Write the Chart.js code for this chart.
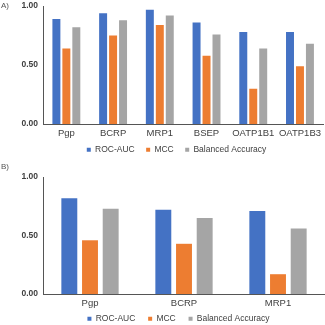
<!DOCTYPE html>
<html>
<head>
<meta charset="utf-8">
<script src="https://cdn.jsdelivr.net/npm/chart.js@4"></script>
<style>
  html, body { margin: 0; padding: 0; background: #fff; }
  body { width: 325px; height: 325px; position: relative; overflow: hidden; font-family: "Liberation Sans", Arial, sans-serif; }
  .panel { position: absolute; left: 0; width: 325px; }
  .tag { position: absolute; left: 1px; font-size: 8px; color: #555; }
</style>
</head>
<body>
<div class="panel" style="top:-4px;height:168px"><canvas id="chartA"></canvas></div>
<div class="panel" style="top:167px;height:166px"><canvas id="chartB"></canvas></div>
<div class="tag" style="top:1px">A)</div>
<div class="tag" style="top:162px">B)</div>
<script>
const seriesNames = ['ROC-AUC', 'MCC', 'Balanced Accuracy'];
const seriesColors = ['#4472C4', '#ED7D31', '#A5A5A5'];

// Panel A
const labelsA = ['Pgp', 'BCRP', 'MRP1', 'BSEP', 'OATP1B1', 'OATP1B3'];
const rocA = [0.89, 0.94, 0.97, 0.86, 0.78, 0.78];
const mccA = [0.64, 0.75, 0.84, 0.58, 0.30, 0.49];
const baA = [0.82, 0.88, 0.92, 0.76, 0.64, 0.68];

// Panel B
const labelsB = ['Pgp', 'BCRP', 'MRP1'];
const rocB = [0.82, 0.72, 0.71];
const mccB = [0.46, 0.43, 0.17];
const baB = [0.73, 0.65, 0.56];

const yTicks = [0, 0.5, 1];
const FONT = '"Liberation Sans", Arial, sans-serif';

// legend sits a bit right of centre in the original
const shiftLegend = {
  id: 'shiftLegend',
  afterLayout(chart, args, opts) {
    const lg = chart.legend;
    if (lg) { lg.left += opts.dx; lg.right += opts.dx; }
  },
};

function makeChart(id, labels, values, barPct, catPct, legendPad, gap, dx) {
  return new Chart(document.getElementById(id), {
    type: 'bar',
    data: {
      labels,
      datasets: values.map((v, i) => ({
        label: seriesNames[i],
        data: v,
        backgroundColor: seriesColors[i],
        barPercentage: barPct,
        categoryPercentage: catPct,
      })),
    },
    plugins: [shiftLegend],
    options: {
      responsive: true,
      maintainAspectRatio: false,
      animation: false,
      layout: { padding: 0 },
      plugins: {
        tooltip: { enabled: false },
        shiftLegend: { dx },
        legend: {
          position: 'bottom',
          labels: {
            boxWidth: 4, boxHeight: 4, padding: legendPad, color: '#404040',
            font: { size: 8.5, family: FONT },
            generateLabels: chart => Chart.defaults.plugins.legend.labels.generateLabels(chart)
              .map((l, i, arr) => ({ ...l, text: i < arr.length - 1 ? l.text + gap : l.text })),
          },
        },
      },
      scales: {
        x: {
          grid: { display: false, drawTicks: false },
          border: { color: '#555', width: 1 },
          ticks: { color: '#404040', padding: 4, maxRotation: 0, autoSkip: false, font: { size: 9.5, family: FONT } },
        },
        y: {
          min: 0, max: 1,
          afterBuildTicks: s => { s.ticks = yTicks.map(v => ({ value: v })); },
          afterFit: s => { s.width = 43; },
          grid: { display: false, drawTicks: false },
          border: { color: '#555', width: 1 },
          ticks: { color: '#404040', padding: 5, font: { size: 8.5, weight: 'bold', family: FONT }, callback: v => v.toFixed(2) },
        },
      },
    },
  });
}

makeChart('chartA', labelsA, [rocA, mccA, baA], 0.8, 0.64, 2, '    ', 14);
makeChart('chartB', labelsB, [rocB, mccB, baB], 0.77, 0.66, 1, '     ', 16);
</script>
</body>
</html>
